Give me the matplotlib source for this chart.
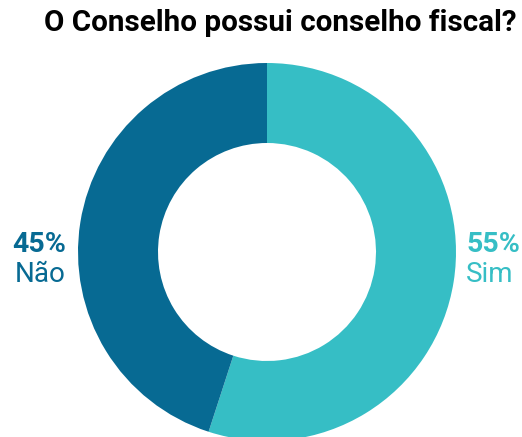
import matplotlib.pyplot as plt

labels = ["Sim", "Não"]
values = [55, 45]
colors = ["#36BEC5", "#076A93"]
title = "O Conselho possui conselho fiscal?"

plt.rcParams['font.family'] = ['Roboto', 'DejaVu Sans']

fig = plt.figure(figsize=(5.22, 4.37), dpi=100)
ax = fig.add_axes([0, 0, 1, 1])

cx, cy, r = 267, 185, 189
ax.pie(values, colors=colors, startangle=90, counterclock=False,
       center=(cx, cy), radius=r, frame=True,
       wedgeprops=dict(width=r - 109, linewidth=0))
ax.set_xlim(0, 522)
ax.set_ylim(0, 437)
ax.axis("off")

# labels to the right (first slice) and left (second slice)
for lab, val, col, x, ha in [(labels[0], values[0], colors[0], 466, "left"),
                             (labels[1], values[1], colors[1], 66, "right")]:
    ax.text(x, 192, f"{val}%", color=col, fontsize=20.5, fontweight="bold",
            ha=ha, va="center")
    ax.text(x, 162, lab, color=col, fontsize=20, ha=ha, va="center")

fig.text(280 / 522, 1 - 23 / 437, title, fontsize=21.3, fontweight="bold",
         ha="center", va="center")

fig.savefig("out.png", dpi=100)
